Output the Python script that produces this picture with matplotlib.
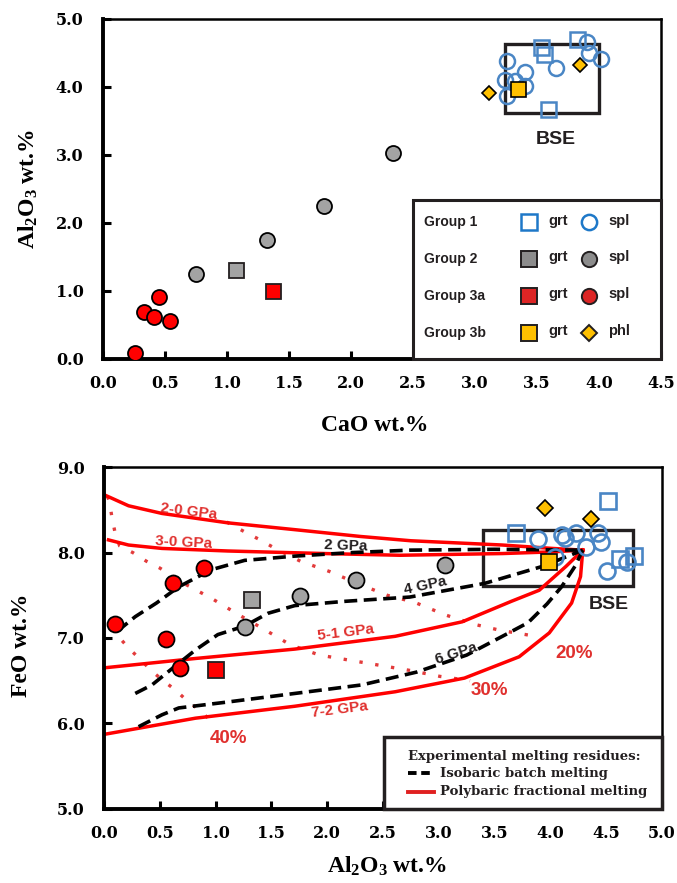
import matplotlib
matplotlib.use('Agg')
import matplotlib.pyplot as plt
from matplotlib.patches import Rectangle

plt.rcParams['mathtext.fontset'] = 'custom'
plt.rcParams['mathtext.rm'] = 'Liberation Serif:bold'
plt.rcParams['mathtext.it'] = 'Liberation Serif:italic:bold'
plt.rcParams['mathtext.bf'] = 'Liberation Serif:bold'
plt.rcParams['mathtext.default'] = 'rm'

# ---------------- Top panel data (CaO vs Al2O3) ----------------
g1_grt_cao = [3.53, 3.56, 3.82, 3.59]
g1_grt_al = [4.59, 4.48, 4.70, 3.67]
g1_spl_cao = [3.26, 3.90, 3.92, 4.02, 3.65, 3.40, 3.24, 3.32, 3.40, 3.26]
g1_spl_al = [4.38, 4.65, 4.49, 4.40, 4.27, 4.22, 4.10, 4.08, 4.01, 3.86]
g2_grt_cao = [1.07]
g2_grt_al = [1.31]
g2_spl_cao = [0.75, 1.32, 1.78, 2.34]
g2_spl_al = [1.25, 1.75, 2.24, 3.03]
g3a_grt_cao = [1.37]
g3a_grt_al = [1.00]
g3a_spl_cao = [0.26, 0.33, 0.41, 0.45, 0.54]
g3a_spl_al = [0.09, 0.68, 0.62, 0.90, 0.55]
g3b_grt_cao = [3.35]
g3b_grt_al = [3.96]
g3b_phl_cao = [3.11, 3.85]
g3b_phl_al = [3.91, 4.32]
bse_top = (3.24, 3.61, 4.00, 4.63)  # CaO min, Al min, CaO max, Al max

# ---------------- Bottom panel data (Al2O3 vs FeO) ----------------
b_g1_grt_al = [3.69, 4.52, 4.62, 4.75]
b_g1_grt_fe = [8.23, 8.61, 7.93, 7.96]
b_g1_spl_al = [3.89, 4.10, 4.13, 4.23, 4.32, 4.43, 4.45, 4.04, 4.51, 4.69]
b_g1_spl_fe = [8.16, 8.21, 8.17, 8.23, 8.07, 8.23, 8.12, 7.95, 7.78, 7.89]
b_g2_grt_al = [1.33]
b_g2_grt_fe = [7.44]
b_g2_spl_al = [1.26, 1.76, 2.26, 3.06]
b_g2_spl_fe = [7.13, 7.49, 7.68, 7.86]
b_g3a_grt_al = [1.00]
b_g3a_grt_fe = [6.62]
b_g3a_spl_al = [0.10, 0.62, 0.90, 0.56, 0.68]
b_g3a_spl_fe = [7.16, 7.65, 7.82, 6.99, 6.65]
b_g3b_grt_al = [3.99]
b_g3b_grt_fe = [7.89]
b_g3b_phl_al = [3.95, 4.36]
b_g3b_phl_fe = [8.52, 8.39]
bse_bot = (3.40, 7.61, 4.74, 8.27)

# Polybaric fractional melting (red solid)
pf20_al = [0.00, 0.22, 0.52, 1.11, 1.71, 2.30, 2.75, 3.57, 4.02, 4.29]
pf20_fe = [8.68, 8.55, 8.46, 8.35, 8.27, 8.19, 8.14, 8.09, 8.05, 8.03]
pf30_al = [0.04, 0.22, 0.52, 1.11, 1.98, 2.65, 3.57, 4.02, 4.29]
pf30_fe = [8.15, 8.09, 8.05, 8.02, 7.99, 7.97, 7.99, 8.01, 8.03]
pf51_al = [0.00, 0.82, 1.71, 2.61, 3.21, 3.65, 3.90, 4.14, 4.29]
pf51_fe = [6.65, 6.76, 6.87, 7.02, 7.19, 7.43, 7.56, 7.84, 8.03]
pf72_al = [0.00, 0.82, 1.71, 2.61, 3.23, 3.72, 3.99, 4.19, 4.27, 4.29]
pf72_fe = [5.87, 6.06, 6.20, 6.37, 6.53, 6.78, 7.06, 7.41, 7.72, 8.03]

# Isobaric batch melting (black dashed)
ib2_al = [0.12, 0.28, 0.47, 0.67, 0.96, 1.26, 1.71, 2.20, 2.74, 3.50, 4.29]
ib2_fe = [7.08, 7.25, 7.41, 7.60, 7.80, 7.91, 7.96, 8.00, 8.03, 8.04, 8.03]
ib4_al = [0.28, 0.43, 0.59, 0.82, 1.02, 1.26, 1.47, 1.71, 2.16, 2.74, 3.41, 3.93, 4.29]
ib4_fe = [6.35, 6.45, 6.62, 6.86, 7.04, 7.14, 7.29, 7.38, 7.43, 7.48, 7.64, 7.84, 8.03]
ib6_al = [0.31, 0.52, 0.67, 1.11, 1.71, 2.31, 2.80, 3.25, 3.57, 3.80, 3.97, 4.10, 4.22, 4.29]
ib6_fe = [5.96, 6.10, 6.18, 6.25, 6.35, 6.45, 6.60, 6.80, 7.02, 7.18, 7.40, 7.60, 7.84, 8.03]

# Melt fraction isopleths (red dotted)
m20_al = [1.10, 1.28, 1.40, 1.52, 1.76, 2.02, 2.27, 2.54, 2.78, 3.06, 3.32, 3.55, 3.87]
m20_fe = [8.36, 8.23, 8.15, 8.06, 7.90, 7.78, 7.64, 7.50, 7.42, 7.27, 7.16, 7.09, 7.02]
m30_al = [0.03, 0.05, 0.07, 0.10, 0.14, 0.26, 0.38, 0.50, 0.73, 0.97, 1.21, 1.45, 1.67,
          1.93, 2.20, 2.47, 2.74, 3.01, 3.28]
m30_fe = [8.66, 8.60, 8.42, 8.23, 8.08, 8.00, 7.90, 7.82, 7.63, 7.46, 7.27, 7.09, 6.92,
          6.80, 6.74, 6.68, 6.62, 6.55, 6.50]
m40_al = [0.08, 0.14, 0.23, 0.34, 0.43, 0.53, 0.64, 0.74, 0.85, 0.95]
m40_fe = [7.12, 7.00, 6.87, 6.73, 6.61, 6.50, 6.39, 6.27, 6.16, 6.04]

top_xticks = [0.0, 0.5, 1.0, 1.5, 2.0, 2.5, 3.0, 3.5, 4.0, 4.5]
top_yticks = [0.0, 1.0, 2.0, 3.0, 4.0, 5.0]
bot_xticks = [0.0, 0.5, 1.0, 1.5, 2.0, 2.5, 3.0, 3.5, 4.0, 4.5, 5.0]
bot_yticks = [5.0, 6.0, 7.0, 8.0, 9.0]

# ---------------- styles ----------------
BLUE = '#4a86c5'
GRAY = '#a3a3a3'
RED = '#ff0000'
YEL = '#ffc000'
TXTRED = '#e0302e'
DARK = '#231f20'

W, H = 677, 883
fig = plt.figure(figsize=(W / 100, H / 100), dpi=100)
ax1 = fig.add_axes([103 / W, 1 - 358.7 / H, 558 / W, 340 / H])
ax2 = fig.add_axes([104 / W, 1 - 808.6 / H, 558 / W, 341.2 / H])

tickfont = dict(family='DejaVu Serif', weight='bold', size=11.5)


def style_axes(ax, xt, yt):
    ax.set_xticks(xt)
    ax.set_yticks(yt)
    ax.set_xticklabels(['%.1f' % v for v in xt], fontdict=tickfont)
    ax.set_yticklabels(['%.1f' % v for v in yt], fontdict=tickfont)
    ax.tick_params(axis='both', direction='in', length=6, width=2.2, top=False, right=False)
    ax.tick_params(axis='x', pad=12)
    ax.tick_params(axis='y', pad=14)
    for s in ['left', 'bottom']:
        ax.spines[s].set_linewidth(2.8)
    for s in ['top', 'right']:
        ax.spines[s].set_linewidth(1.8)


def pts(ax, x, y, marker, ms, fc, ec, mew=1.2, z=4):
    ax.plot(x, y, linestyle='none', marker=marker, ms=ms, mfc=fc, mec=ec, mew=mew, zorder=z)


# ================= TOP PANEL =================
ax1.set_xlim(0, 4.5)
ax1.set_ylim(0, 5)
style_axes(ax1, top_xticks, top_yticks)

ax1.add_patch(Rectangle((bse_top[0], bse_top[1]), bse_top[2] - bse_top[0], bse_top[3] - bse_top[1],
                        fill=False, ec=DARK, lw=2.4, zorder=2))
ax1.text(3.65, 3.23, 'BSE', ha='center', va='center', fontsize=14, fontweight='bold',
         family='Liberation Sans', color=DARK)

pts(ax1, g1_grt_cao, g1_grt_al, 's', 10.8, 'none', BLUE, 1.8)
pts(ax1, g1_spl_cao, g1_spl_al, 'o', 10.8, 'none', BLUE, 1.8)
pts(ax1, g2_spl_cao, g2_spl_al, 'o', 10.8, GRAY, 'black', 1.3)
pts(ax1, g2_grt_cao, g2_grt_al, 's', 10.8, GRAY, DARK, 1.3)
pts(ax1, g3a_grt_cao, g3a_grt_al, 's', 10.8, RED, DARK, 1.3)
pts(ax1, g3a_spl_cao, g3a_spl_al, 'o', 10.8, RED, 'black', 1.3)
pts(ax1, g3b_phl_cao, g3b_phl_al, 'D', 7.5, YEL, 'black', 1.2)
pts(ax1, g3b_grt_cao, g3b_grt_al, 's', 10.8, YEL, 'black', 1.2, z=5)

# legend box (top)
ax1.add_patch(Rectangle((2.5, 0.0), 2.0, 2.33, fc='white', ec=DARK, lw=2.2, zorder=6, clip_on=False))
rows_y = [0.401, 0.293, 0.184, 0.075]
groups = ['Group 1', 'Group 2', 'Group 3a', 'Group 3b']
sq_fc = ['none', '#8c8c8c', '#dd2525', YEL]
sq_ec = ['#1e78c8', DARK, DARK, DARK]
c2_marker = ['o', 'o', 'o', 'D']
c2_fc = ['none', '#8c8c8c', '#dd2525', YEL]
c2_ec = ['#1e78c8', DARK, DARK, DARK]
c2_ms = [11, 11, 11, 8]
c2_txt = ['spl', 'spl', 'spl', 'phl']
for i in range(4):
    y = rows_y[i]
    ax1.text(0.575, y, groups[i], transform=ax1.transAxes, ha='left', va='center',
             fontsize=10, fontweight='bold', family='Liberation Sans', color=DARK, zorder=7)
    ax1.plot([0.764], [y], transform=ax1.transAxes, marker='s', ms=11, mfc=sq_fc[i],
             mec=sq_ec[i], mew=1.8 if i == 0 else 1.4, zorder=7, clip_on=False)
    ax1.text(0.799, y + 0.005, 'grt', transform=ax1.transAxes, ha='left', va='center',
             fontsize=10.5, fontweight='bold', family='Liberation Sans', color=DARK, zorder=7)
    ax1.plot([0.8715], [y], transform=ax1.transAxes, marker=c2_marker[i], ms=c2_ms[i],
             mfc=c2_fc[i], mec=c2_ec[i], mew=1.8 if i == 0 else 1.4, zorder=7, clip_on=False)
    ax1.text(0.905, y + 0.005, c2_txt[i], transform=ax1.transAxes, ha='left', va='center',
             fontsize=10.5, fontweight='bold', family='Liberation Sans', color=DARK, zorder=7)

# ================= BOTTOM PANEL =================
ax2.set_xlim(0, 5)
ax2.set_ylim(5, 9)
style_axes(ax2, bot_xticks, bot_yticks)

dot_kw = dict(color='#e33b3b', lw=2.4, dashes=(1, 3.8), zorder=2)
ax2.plot(m20_al, m20_fe, **dot_kw)
ax2.plot(m30_al, m30_fe, **dot_kw)
ax2.plot(m40_al, m40_fe, **dot_kw)

red_kw = dict(color=RED, lw=2.5, zorder=2.5, solid_joinstyle='round')
ax2.plot(pf20_al, pf20_fe, **red_kw)
ax2.plot(pf30_al, pf30_fe, **red_kw)
ax2.plot(pf51_al, pf51_fe, **red_kw)
ax2.plot(pf72_al, pf72_fe, **red_kw)

dash_kw = dict(color='black', lw=2.6, dashes=(3.6, 1.8), zorder=2.6)
ax2.plot(ib2_al, ib2_fe, **dash_kw)
ax2.plot(ib4_al, ib4_fe, **dash_kw)
ax2.plot(ib6_al, ib6_fe, **dash_kw)

ax2.add_patch(Rectangle((bse_bot[0], bse_bot[1]), bse_bot[2] - bse_bot[0], bse_bot[3] - bse_bot[1],
                        fill=False, ec=DARK, lw=2.4, zorder=2.2))
ax2.text(4.52, 7.39, 'BSE', ha='center', va='center', fontsize=14, fontweight='bold',
         family='Liberation Sans', color=DARK)

lab_kw = dict(ha='center', va='center', fontsize=11, fontweight='bold', family='Liberation Sans')
ax2.text(0.76, 8.48, '2-0 GPa', color=TXTRED, rotation=-7, **lab_kw)
ax2.text(0.71, 8.12, '3-0 GPa', color=TXTRED, rotation=-3, **lab_kw)
ax2.text(2.17, 7.06, '5-1 GPa', color=TXTRED, rotation=7, **lab_kw)
ax2.text(2.11, 6.16, '7-2 GPa', color=TXTRED, rotation=7, **lab_kw)
ax2.text(2.17, 8.08, '2 GPa', color=DARK, rotation=-2, **lab_kw)
ax2.text(2.88, 7.61, '4 GPa', color=DARK, rotation=12, **lab_kw)
ax2.text(3.16, 6.82, '6 GPa', color=DARK, rotation=18, **lab_kw)
pct_kw = dict(ha='center', va='center', fontsize=13.5, fontweight='bold', family='Liberation Sans',
              color=TXTRED)
ax2.text(4.21, 6.82, '20%', **pct_kw)
ax2.text(3.45, 6.38, '30%', **pct_kw)
ax2.text(1.12, 5.82, '40%', **pct_kw)

pts(ax2, b_g1_grt_al, b_g1_grt_fe, 's', 11.5, 'none', BLUE, 1.9)
pts(ax2, b_g1_spl_al, b_g1_spl_fe, 'o', 11.5, 'none', BLUE, 1.9)
pts(ax2, b_g2_spl_al, b_g2_spl_fe, 'o', 11.5, GRAY, 'black', 1.3)
pts(ax2, b_g2_grt_al, b_g2_grt_fe, 's', 11.5, GRAY, DARK, 1.3)
pts(ax2, b_g3a_grt_al, b_g3a_grt_fe, 's', 11.5, RED, DARK, 1.3)
pts(ax2, b_g3a_spl_al, b_g3a_spl_fe, 'o', 11.5, RED, 'black', 1.3)
pts(ax2, b_g3b_phl_al, b_g3b_phl_fe, 'D', 8, YEL, 'black', 1.2)
pts(ax2, b_g3b_grt_al, b_g3b_grt_fe, 's', 11.5, YEL, 'black', 1.2, z=5)

# legend box (bottom)
ax2.add_patch(Rectangle((2.51, 5.0), 2.49, 0.84, fc='white', ec=DARK, lw=2.5, zorder=6, clip_on=False))
legfont = dict(family='DejaVu Serif', weight='bold', size=9.5)
ax2.text(0.544, 0.154, 'Experimental melting residues:', transform=ax2.transAxes, ha='left',
         va='center', fontdict=legfont, color=DARK, zorder=7)
ax2.plot([0.544, 0.592], [0.1035, 0.1035], transform=ax2.transAxes, color='black', lw=2.8,
         dashes=(2.2, 1.2), zorder=7)
ax2.text(0.6025, 0.1035, 'Isobaric batch melting', transform=ax2.transAxes, ha='left',
         va='center', fontdict=legfont, color=DARK, zorder=7)
ax2.plot([0.544, 0.592], [0.0495, 0.0495], transform=ax2.transAxes, color='#e02020', lw=2.8,
         zorder=7)
ax2.text(0.6025, 0.0495, 'Polybaric fractional melting', transform=ax2.transAxes, ha='left',
         va='center', fontdict=legfont, color=DARK, zorder=7)

# axis labels
labfont = dict(family='Liberation Serif', weight='bold', size=17)
fig.text(375 / W, 1 - 425 / H, 'CaO wt.%', ha='center', va='center', fontdict=labfont)
fig.text(387 / W, 1 - 866 / H, 'Al$_2$O$_3$ wt.%', ha='center', va='center', fontdict=labfont)
fig.text(28 / W, 1 - 189 / H, 'Al$_2$O$_3$ wt.%', ha='center', va='center', rotation=90,
         fontdict=labfont)
fig.text(22 / W, 1 - 645 / H, 'FeO wt.%', ha='center', va='center', rotation=90, fontdict=labfont)

fig.savefig('out.png', dpi=100)
